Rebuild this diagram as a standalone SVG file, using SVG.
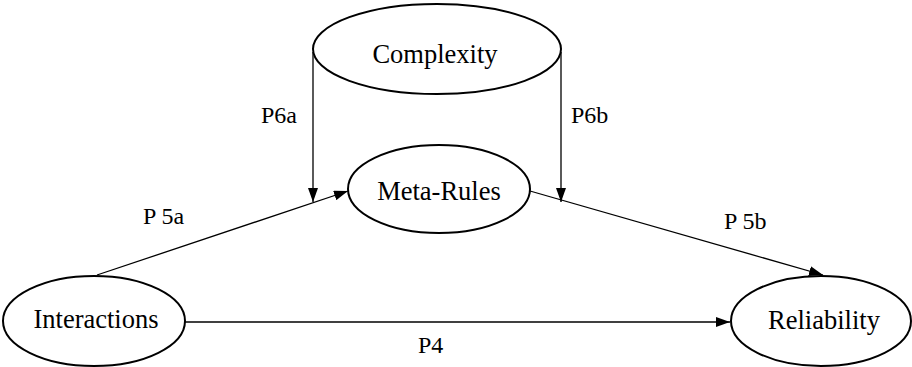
<svg xmlns="http://www.w3.org/2000/svg" width="912" height="367" viewBox="0 0 912 367">
<style>
.node ellipse{fill:#fff;stroke:#000;stroke-width:2}
text{font-family:"Liberation Serif","Times New Roman",serif;font-size:24px;fill:#000}
.node text{font-size:26.5px;text-anchor:middle}
.edges line{stroke:#000;stroke-width:1.3}
</style>
<defs>
<marker id="ah" markerWidth="14" markerHeight="10" refX="14" refY="5" orient="auto" markerUnits="userSpaceOnUse">
<path d="M0,0 L14,5 L0,10 Z" fill="#000"/>
</marker>
</defs>
<rect width="912" height="367" fill="#fff"/>
<g class="edges">
<line x1="313" y1="52" x2="313" y2="202" marker-end="url(#ah)"/>
<line x1="561" y1="52" x2="561" y2="202" marker-end="url(#ah)"/>
<line x1="97" y1="275" x2="348" y2="191" marker-end="url(#ah)"/>
<line x1="530" y1="191" x2="823" y2="275" marker-end="url(#ah)"/>
<line x1="185" y1="322" x2="730" y2="322" marker-end="url(#ah)"/>
</g>
<g id="complexity" class="node">
<ellipse cx="437" cy="49" rx="124" ry="45"/>
<text x="435" y="63">Complexity</text>
</g>
<g id="meta-rules" class="node">
<ellipse cx="439" cy="189" rx="91" ry="44"/>
<text x="439" y="200">Meta-Rules</text>
</g>
<g id="interactions" class="node">
<ellipse cx="94" cy="321" rx="91" ry="45"/>
<text x="96" y="328">Interactions</text>
</g>
<g id="reliability" class="node">
<ellipse cx="821" cy="321" rx="90" ry="45"/>
<text x="824" y="329">Reliability</text>
</g>
<g id="labels">
<text x="261" y="123">P6a</text>
<text x="571" y="123">P6b</text>
<text x="143" y="224">P 5a</text>
<text x="724" y="229">P 5b</text>
<text x="418" y="353">P4</text>
</g>
</svg>
